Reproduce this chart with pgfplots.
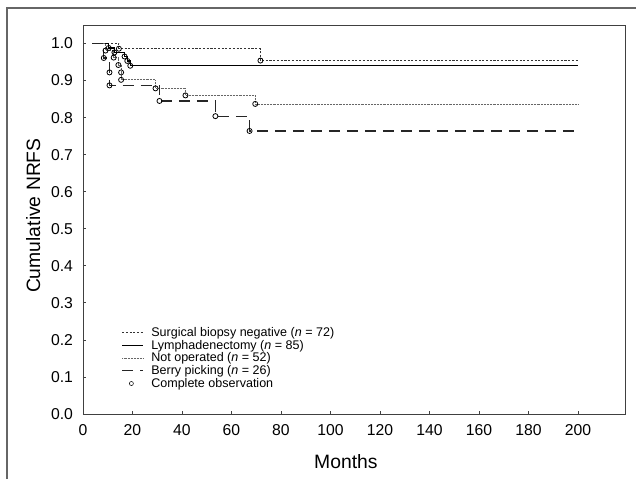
\documentclass[border=0pt]{standalone}
\usepackage{pgfplots}
\pgfplotsset{compat=1.18}
\usepackage{fontspec}
\setmainfont{Liberation Sans}
\begin{document}
\begin{tikzpicture}
\path[use as bounding box] (-62.25pt,-48.75pt) rectangle (414.75pt,310.5pt);
\draw[black!60, line width=0.8pt] (-57pt,-48.75pt) -- (-57pt,304.5pt) -- (414.75pt,304.5pt);
\begin{axis}[
  scale only axis,
  width=406.5pt, height=291.75pt,
  xmin=0, xmax=219, ymin=0, ymax=1.05,
  axis line style={black!75, line width=0.7pt},
  xtick={0,20,...,200},
  ytick={0,0.1,...,1.0},
  tick align=inside,
  major tick length=2.5pt,
  tick style={black!75, line width=0.6pt},
  xtick pos=bottom, ytick pos=left,
  /pgf/number format/assume math mode=true,
  tick label style={font=\fontsize{11.8}{12}\selectfont},
  yticklabel style={/pgf/number format/.cd, fixed, fixed zerofill, precision=1, /tikz/.cd, xshift=-4pt},
  xticklabel style={yshift=-4pt},
  xlabel={Months},
  ylabel={Cumulative NRFS},
  label style={font=\fontsize{14.5}{15}\selectfont},
  xlabel style={at={(axis description cs:0.485,-0.123)}, anchor=center},
  ylabel style={at={(axis description cs:-0.092,0.51)}, anchor=center, rotate=0},
  legend cell align=left,
  legend image code/.code={\draw[#1] (0pt,0pt) -- (16pt,0pt);},
  legend style={draw=none, fill=none, at={(axis description cs:0.068,0.234)}, anchor=north west,
    font=\fontsize{9.4}{10}\selectfont, row sep=-2.8pt, inner sep=1pt,
    /tikz/every odd column/.append style={column sep=3.5pt}},
]
% Surgical biopsy negative
\addplot[const plot, black!80, line width=0.6pt, dash pattern=on 1.6pt off 1.2pt] coordinates {
 (3.8,1.0) (14.5,0.986) (71.7,0.954) (200,0.954)};
\addlegendentry{Surgical biopsy negative (\textit{n} = 72)}
% Lymphadenectomy
\addplot[const plot, black, line width=0.9pt] coordinates {
 (3.8,1.0) (10.4,0.988) (12.7,0.976) (16.8,0.965) (17.9,0.953) (19.1,0.940) (200,0.940)};
\addlegendentry{Lymphadenectomy (\textit{n} = 85)}
% Not operated
\addplot[const plot, black!60, line width=0.6pt, dash pattern=on 0.5pt off 0.6pt] coordinates {
 (3.8,1.0) (9.1,0.981) (12.4,0.962) (14.3,0.942) (15.4,0.922) (15.4,0.902) (29.3,0.879) (41.4,0.860) (69.6,0.837) (200,0.837)};
\addlegendentry{Not operated (\textit{n} = 52)}
% Berry picking
\addplot[const plot, black!85, line width=0.85pt, dash pattern=on 8.25pt off 5.25pt] coordinates {
 (3.8,1.0) (8.4,0.961) (10.7,0.922) (10.7,0.887) (30.9,0.845) (53.5,0.804) (67.3,0.764) (200,0.764)};
\addlegendentry{Berry picking (\textit{n} = 26)}
% Complete observations
\addplot[only marks, mark=o, mark size=1.9pt, mark options={draw=black, fill=white, line width=0.6pt},
  legend image code/.code={\draw[mark options={scale=0.8}] plot coordinates {(7pt,0pt)};}] coordinates {
 (14.5,0.986) (71.7,0.954)
 (10.4,0.988) (12.7,0.976) (16.8,0.965) (17.9,0.953) (19.1,0.940)
 (9.1,0.981) (12.4,0.962) (14.3,0.942) (15.4,0.922) (15.4,0.902) (29.3,0.879) (41.4,0.860) (69.6,0.837)
 (8.4,0.961) (10.7,0.922) (10.7,0.887) (30.9,0.845) (53.5,0.804) (67.3,0.764)};
\addlegendentry{Complete observation}
\end{axis}
\end{tikzpicture}
\end{document}
